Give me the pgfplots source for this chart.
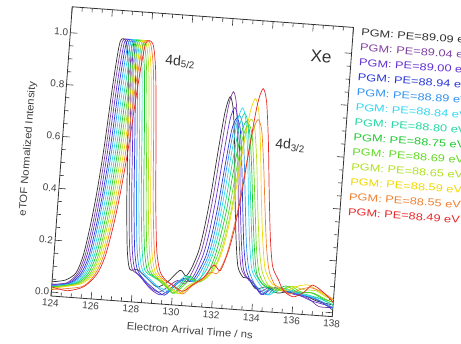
\documentclass[border=0pt]{standalone}
\usepackage{fontspec}
\setmainfont{Liberation Sans}
\newfontfamily\widefont[FakeStretch=1.28]{Liberation Sans}
\newfontfamily\labelfont[FakeStretch=1.1]{Liberation Sans}
\usepackage{pgfplots}
\pgfplotsset{compat=1.18}
\definecolor{c0}{HTML}{303030}
\definecolor{c1}{HTML}{8040A0}
\definecolor{c2}{HTML}{6230D0}
\definecolor{c3}{HTML}{2838D8}
\definecolor{c4}{HTML}{3090F0}
\definecolor{c5}{HTML}{30D8F0}
\definecolor{c6}{HTML}{20D8A0}
\definecolor{c7}{HTML}{20C830}
\definecolor{c8}{HTML}{60D820}
\definecolor{c9}{HTML}{B0E020}
\definecolor{c10}{HTML}{F0D800}
\definecolor{c11}{HTML}{F08030}
\definecolor{c12}{HTML}{E82828}
\begin{document}
\begin{tikzpicture}
\path[use as bounding box] (0,0) rectangle (461pt,344pt);
\begin{scope}[transform canvas={rotate around={-4.2:(51pt,48pt)}}]
\begin{axis}[
  at={(51pt,48pt)}, anchor=south west,
  scale only axis, width=282pt, height=290pt,
  xmin=124, xmax=138, ymin=-0.015, ymax=1.1,
  xtick={124,126,128,130,132,134,136,138},
  ytick={0,0.2,0.4,0.6,0.8,1.0},
  minor x tick num=3, minor y tick num=3,
  tick align=inside, major tick length=7pt, minor tick length=4pt,
  axis line style={line width=0.8pt, black!80},
  tick style={line width=0.6pt, black!80},
  /pgf/number format/assume math mode=true,
  y tick label style={/pgf/number format/fixed, /pgf/number format/fixed zerofill, /pgf/number format/precision=1, inner sep=2pt},
  tick label style={font=\fontsize{10}{12}\selectfont, text=black!75},
  label style={font=\labelfont\fontsize{10.3}{12}\selectfont, text=black!75},
  xlabel={Electron Arrival Time / ns},
  ylabel={eTOF Normalized Intensity},
  xlabel style={yshift=-3pt},
  ylabel style={at={(rel axis cs:-0.12,0.5)}, anchor=center},
  legend style={at={(1.026,1.0)}, anchor=north west, draw=none, fill=none,
    font=\widefont\fontsize{10}{12}\selectfont, row sep=5.3pt, inner sep=0pt,
    nodes={inner sep=0.6pt}},
  legend cell align=left,
  legend image code/.code={},
  every axis plot/.append style={line width=0.7pt, smooth, tension=0.45, no marks},
]
\addplot[c0] coordinates {(124.00,0.04)(124.65,0.05)(125.15,0.08)(125.45,0.15)(125.70,0.27)(125.90,0.40)(126.10,0.58)(126.30,0.82)(126.50,0.98)(126.80,0.98)(127.00,0.88)(127.20,0.65)(127.40,0.38)(127.60,0.19)(127.80,0.11)(128.20,0.11)(128.70,0.08)(129.20,0.05)(129.70,0.07)(130.30,0.12)(130.60,0.10)(130.85,0.13)(131.15,0.20)(131.35,0.29)(131.55,0.42)(131.75,0.59)(131.95,0.74)(132.15,0.80)(132.35,0.75)(132.55,0.61)(132.75,0.42)(132.95,0.26)(133.15,0.15)(133.45,0.11)(133.70,0.11)(134.10,0.07)(134.60,0.08)(135.20,0.06)(135.80,0.07)(136.50,0.06)(137.20,0.04)(138.00,0.03)};
\addlegendentry{\textcolor{c0}{PGM: PE=89.09 eV}}
\addplot[c1] coordinates {(124.00,0.03)(124.73,0.04)(125.24,0.08)(125.54,0.15)(125.80,0.27)(126.00,0.40)(126.20,0.58)(126.40,0.82)(126.61,0.98)(126.91,0.98)(127.12,0.88)(127.32,0.65)(127.52,0.38)(127.72,0.19)(127.93,0.11)(128.30,0.09)(128.80,0.05)(129.30,0.03)(129.70,0.05)(130.20,0.08)(130.60,0.07)(130.98,0.13)(131.28,0.20)(131.48,0.29)(131.68,0.42)(131.89,0.60)(132.09,0.76)(132.29,0.82)(132.49,0.77)(132.69,0.62)(132.90,0.43)(133.10,0.26)(133.30,0.15)(133.60,0.11)(133.90,0.10)(134.30,0.06)(134.80,0.08)(135.40,0.07)(136.00,0.06)(136.70,0.05)(137.30,0.02)(138.00,0.02)};
\addlegendentry{\textcolor{c1}{PGM: PE=89.04 eV}}
\addplot[c2] coordinates {(124.00,0.03)(124.81,0.04)(125.32,0.08)(125.63,0.15)(125.89,0.27)(126.10,0.40)(126.30,0.58)(126.51,0.82)(126.72,0.98)(127.02,0.98)(127.23,0.88)(127.44,0.65)(127.64,0.38)(127.85,0.19)(128.05,0.11)(128.40,0.08)(128.90,0.04)(129.40,0.02)(129.80,0.04)(130.30,0.08)(130.80,0.08)(131.09,0.12)(131.40,0.19)(131.60,0.27)(131.81,0.40)(132.01,0.56)(132.22,0.71)(132.42,0.76)(132.62,0.71)(132.83,0.58)(133.03,0.40)(133.24,0.24)(133.44,0.14)(133.75,0.10)(134.00,0.09)(134.40,0.05)(134.90,0.08)(135.50,0.07)(136.20,0.06)(136.90,0.04)(137.50,0.03)(138.00,0.02)};
\addlegendentry{\textcolor{c2}{PGM: PE=89.00 eV}}
\addplot[c3] coordinates {(124.00,0.025)(124.89,0.04)(125.41,0.08)(125.73,0.15)(125.99,0.27)(126.20,0.40)(126.41,0.58)(126.61,0.82)(126.82,0.98)(127.14,0.98)(127.35,0.88)(127.55,0.65)(127.76,0.38)(127.97,0.19)(128.18,0.11)(128.60,0.07)(129.10,0.04)(129.60,0.02)(130.00,0.05)(130.50,0.09)(130.90,0.08)(131.21,0.12)(131.52,0.18)(131.73,0.26)(131.93,0.37)(132.14,0.53)(132.34,0.67)(132.55,0.72)(132.76,0.68)(132.96,0.55)(133.17,0.38)(133.37,0.23)(133.58,0.14)(133.89,0.09)(134.20,0.07)(134.50,0.05)(135.00,0.08)(135.60,0.07)(136.30,0.06)(137.00,0.05)(137.60,0.03)(138.00,0.01)};
\addlegendentry{\textcolor{c3}{PGM: PE=88.94 eV}}
\addplot[c4] coordinates {(124.00,0.025)(124.96,0.04)(125.49,0.08)(125.81,0.15)(126.07,0.27)(126.28,0.40)(126.50,0.58)(126.71,0.82)(126.92,0.98)(127.24,0.98)(127.45,0.88)(127.66,0.65)(127.88,0.38)(128.09,0.19)(128.30,0.11)(128.70,0.08)(129.20,0.05)(129.70,0.03)(130.10,0.06)(130.60,0.09)(131.00,0.08)(131.32,0.12)(131.63,0.18)(131.84,0.26)(132.05,0.38)(132.25,0.54)(132.46,0.68)(132.67,0.73)(132.88,0.69)(133.09,0.55)(133.29,0.39)(133.50,0.23)(133.71,0.14)(134.02,0.09)(134.30,0.07)(134.70,0.05)(135.10,0.08)(135.70,0.07)(136.40,0.06)(137.10,0.05)(138.00,0.02)};
\addlegendentry{\textcolor{c4}{PGM: PE=88.89 eV}}
\addplot[c5] coordinates {(124.00,0.02)(125.04,0.04)(125.58,0.08)(125.90,0.15)(126.17,0.27)(126.38,0.40)(126.60,0.58)(126.81,0.82)(127.03,0.98)(127.35,0.98)(127.57,0.88)(127.78,0.65)(128.00,0.38)(128.21,0.19)(128.43,0.11)(128.80,0.08)(129.30,0.05)(129.80,0.04)(130.20,0.07)(130.60,0.10)(131.00,0.08)(131.30,0.09)(131.45,0.12)(131.76,0.19)(131.97,0.27)(132.18,0.40)(132.39,0.56)(132.60,0.71)(132.81,0.76)(133.02,0.71)(133.23,0.58)(133.44,0.40)(133.65,0.24)(133.86,0.14)(134.18,0.10)(134.50,0.07)(134.80,0.05)(135.30,0.08)(135.90,0.07)(136.60,0.06)(137.30,0.05)(138.00,0.03)};
\addlegendentry{\textcolor{c5}{PGM: PE=88.84 eV}}
\addplot[c6] coordinates {(124.00,0.02)(125.12,0.04)(125.66,0.08)(125.99,0.15)(126.26,0.27)(126.48,0.40)(126.70,0.58)(126.92,0.82)(127.14,0.98)(127.46,0.98)(127.68,0.88)(127.90,0.65)(128.12,0.38)(128.34,0.19)(128.55,0.11)(128.90,0.09)(129.40,0.07)(129.90,0.04)(130.30,0.06)(130.70,0.10)(131.10,0.08)(131.54,0.12)(131.86,0.19)(132.07,0.27)(132.28,0.38)(132.50,0.55)(132.71,0.69)(132.92,0.74)(133.13,0.70)(133.34,0.56)(133.56,0.39)(133.77,0.24)(133.98,0.14)(134.30,0.10)(134.60,0.08)(135.00,0.06)(135.50,0.08)(136.10,0.07)(136.80,0.06)(137.40,0.05)(138.00,0.03)};
\addlegendentry{\textcolor{c6}{PGM: PE=88.80 eV}}
\addplot[c7] coordinates {(124.00,0.02)(125.20,0.04)(125.75,0.08)(126.08,0.15)(126.36,0.27)(126.58,0.40)(126.80,0.58)(127.02,0.82)(127.24,0.98)(127.58,0.98)(127.80,0.88)(128.02,0.65)(128.24,0.38)(128.46,0.19)(128.68,0.11)(129.00,0.09)(129.50,0.07)(130.00,0.03)(130.40,0.06)(130.80,0.10)(131.20,0.08)(131.64,0.11)(131.96,0.18)(132.17,0.26)(132.39,0.37)(132.60,0.53)(132.82,0.66)(133.03,0.71)(133.24,0.67)(133.46,0.54)(133.67,0.38)(133.89,0.23)(134.10,0.13)(134.42,0.09)(134.70,0.08)(135.10,0.07)(135.60,0.09)(136.20,0.07)(136.90,0.07)(137.50,0.05)(138.00,0.04)};
\addlegendentry{\textcolor{c7}{PGM: PE=88.75 eV}}
\addplot[c8] coordinates {(124.00,0.02)(125.28,0.04)(125.84,0.08)(126.18,0.15)(126.46,0.27)(126.68,0.40)(126.90,0.58)(127.13,0.82)(127.35,0.98)(127.69,0.98)(127.91,0.88)(128.14,0.65)(128.36,0.38)(128.58,0.19)(128.81,0.11)(129.20,0.08)(129.70,0.05)(130.10,0.03)(130.50,0.06)(130.90,0.09)(131.30,0.08)(131.75,0.11)(132.07,0.18)(132.29,0.25)(132.50,0.36)(132.72,0.52)(132.93,0.65)(133.15,0.70)(133.37,0.66)(133.58,0.53)(133.80,0.37)(134.01,0.22)(134.23,0.13)(134.55,0.09)(134.90,0.08)(135.30,0.07)(135.80,0.09)(136.40,0.07)(137.00,0.07)(137.60,0.05)(138.00,0.04)};
\addlegendentry{\textcolor{c8}{PGM: PE=88.69 eV}}
\addplot[c9] coordinates {(124.00,0.015)(125.35,0.04)(125.92,0.08)(126.26,0.15)(126.54,0.27)(126.77,0.40)(127.00,0.58)(127.22,0.82)(127.45,0.98)(127.79,0.98)(128.02,0.88)(128.24,0.65)(128.47,0.38)(128.70,0.19)(128.93,0.11)(129.30,0.08)(129.80,0.05)(130.30,0.03)(130.70,0.06)(131.10,0.08)(131.50,0.09)(131.85,0.12)(132.18,0.18)(132.40,0.26)(132.62,0.37)(132.83,0.53)(133.05,0.67)(133.27,0.72)(133.49,0.68)(133.71,0.55)(133.92,0.38)(134.14,0.23)(134.36,0.14)(134.69,0.09)(135.00,0.08)(135.40,0.07)(135.90,0.09)(136.50,0.08)(137.10,0.08)(137.60,0.06)(138.00,0.05)};
\addlegendentry{\textcolor{c9}{PGM: PE=88.65 eV}}
\addplot[c10] coordinates {(124.00,0.015)(125.43,0.04)(126.00,0.08)(126.35,0.15)(126.64,0.27)(126.87,0.40)(127.10,0.58)(127.33,0.82)(127.56,0.98)(127.90,0.98)(128.13,0.88)(128.36,0.65)(128.59,0.38)(128.82,0.19)(129.05,0.11)(129.40,0.08)(129.90,0.05)(130.40,0.03)(130.80,0.06)(131.20,0.08)(131.60,0.10)(131.97,0.13)(132.30,0.20)(132.52,0.29)(132.74,0.42)(132.96,0.59)(133.18,0.74)(133.40,0.80)(133.62,0.75)(133.84,0.61)(134.06,0.42)(134.28,0.26)(134.50,0.15)(134.83,0.10)(135.20,0.08)(135.60,0.07)(136.10,0.09)(136.70,0.10)(137.20,0.08)(137.70,0.06)(138.00,0.05)};
\addlegendentry{\textcolor{c10}{PGM: PE=88.59 eV}}
\addplot[c11] coordinates {(124.00,0.01)(125.51,0.03)(126.09,0.08)(126.44,0.15)(126.73,0.27)(126.97,0.40)(127.20,0.58)(127.43,0.82)(127.67,0.98)(128.01,0.98)(128.25,0.88)(128.48,0.65)(128.71,0.38)(128.95,0.19)(129.18,0.11)(129.50,0.08)(130.00,0.06)(130.50,0.03)(130.90,0.06)(131.40,0.09)(131.80,0.12)(132.17,0.12)(132.50,0.18)(132.72,0.26)(132.94,0.37)(133.17,0.53)(133.39,0.67)(133.61,0.72)(133.83,0.68)(134.05,0.55)(134.28,0.38)(134.50,0.23)(134.72,0.14)(135.05,0.09)(135.40,0.08)(135.80,0.06)(136.30,0.08)(136.80,0.09)(137.30,0.08)(137.80,0.06)(138.00,0.05)};
\addlegendentry{\textcolor{c11}{PGM: PE=88.55 eV}}
\addplot[c12] coordinates {(124.00,0.02)(124.80,0.01)(125.59,0.03)(126.18,0.08)(126.53,0.15)(126.83,0.27)(127.06,0.40)(127.30,0.58)(127.54,0.82)(127.77,0.98)(128.13,0.98)(128.36,0.88)(128.60,0.65)(128.84,0.38)(129.07,0.19)(129.31,0.11)(129.60,0.08)(130.00,0.06)(130.50,0.04)(131.00,0.07)(131.50,0.10)(131.95,0.15)(132.29,0.13)(132.63,0.21)(132.85,0.30)(133.08,0.44)(133.30,0.62)(133.53,0.78)(133.75,0.84)(133.97,0.79)(134.20,0.64)(134.42,0.45)(134.65,0.27)(134.87,0.16)(135.21,0.11)(135.50,0.07)(136.00,0.05)(136.50,0.07)(136.90,0.10)(137.40,0.08)(138.00,0.04)};
\addlegendentry{\textcolor{c12}{PGM: PE=88.49 eV}}
\node[font=\fontsize{17}{19}\selectfont, text=black!80] at (axis cs:136.5,0.98) {Xe};
\node[font=\fontsize{14}{16}\selectfont, text=black!80] at (axis cs:129.55,0.92) {4d\textsubscript{5/2}};
\node[font=\fontsize{14}{16}\selectfont, text=black!80] at (axis cs:135.3,0.63) {4d\textsubscript{3/2}};
\end{axis}
\end{scope}
\end{tikzpicture}
\end{document}
